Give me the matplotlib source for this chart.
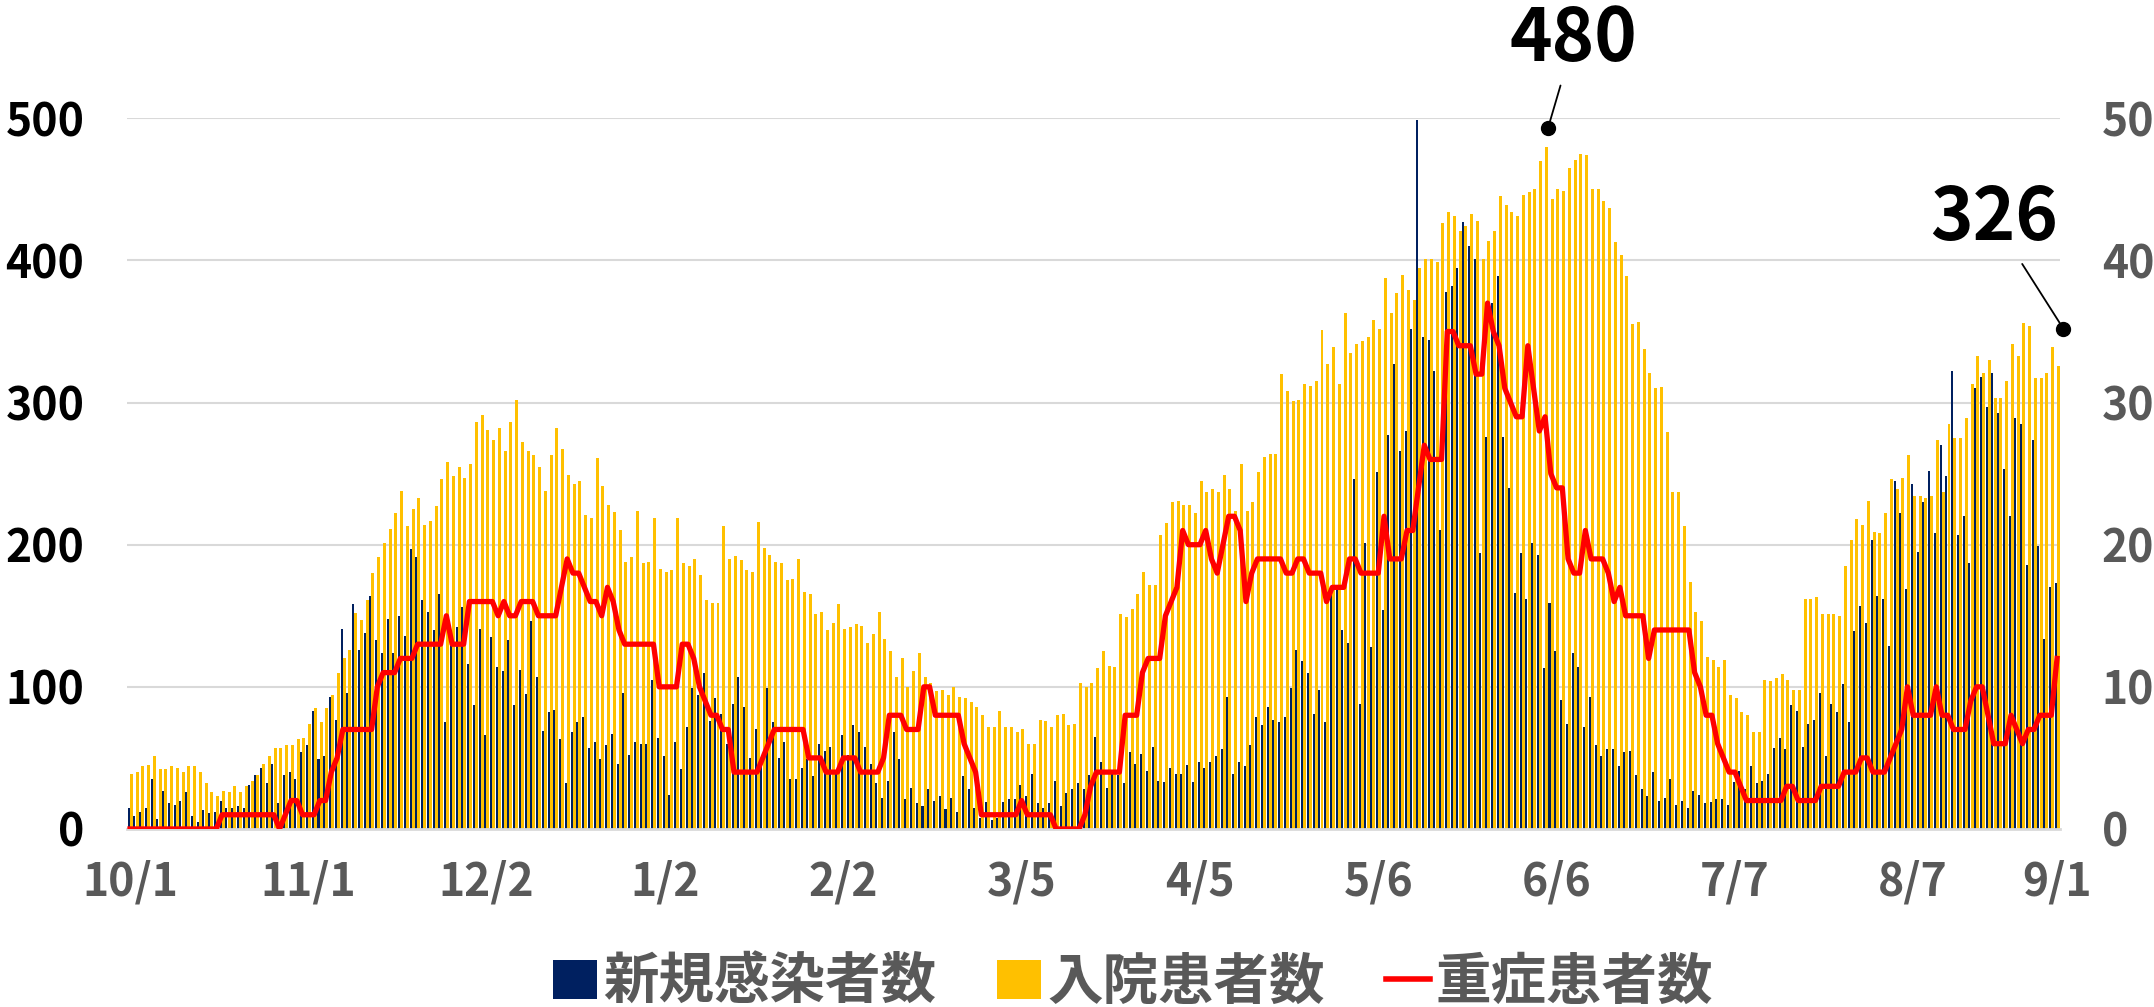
import numpy as np
import pandas as pd
import matplotlib
matplotlib.use('Agg')
import matplotlib.pyplot as plt
from matplotlib.patches import Patch
from matplotlib.lines import Line2D

plt.rcParams['font.family'] = ['Noto Sans CJK JP', 'DejaVu Sans']

# daily series 2020/10/1 - 2021/9/1
dates = pd.date_range('2020-10-01', '2021-09-01', freq='D')

new_cases = [15, 9, 12, 15, 35, 7, 27, 18, 17, 20,
             26, 9, 5, 13, 11, 12, 20, 15, 15, 16,
             15, 31, 38, 43, 32, 46, 18, 38, 40, 35,
             54, 59, 83, 49, 51, 93, 77, 141, 96, 158,
             126, 138, 164, 133, 124, 148, 124, 150, 136, 197,
             191, 161, 153, 140, 165, 75, 130, 142, 156, 116,
             87, 141, 66, 135, 114, 111, 133, 87, 112, 95,
             146, 107, 69, 82, 84, 63, 32, 68, 75, 79,
             57, 61, 49, 59, 67, 46, 96, 52, 61, 60,
             60, 105, 64, 51, 24, 61, 42, 72, 99, 94,
             110, 76, 92, 81, 60, 88, 107, 86, 50, 70,
             46, 99, 75, 50, 61, 35, 35, 43, 49, 37,
             60, 55, 58, 39, 66, 52, 73, 68, 58, 46,
             32, 22, 34, 68, 49, 21, 29, 18, 16, 28,
             20, 23, 14, 22, 12, 37, 28, 15, 8, 19,
             6, 8, 19, 21, 21, 31, 23, 39, 18, 15,
             18, 34, 16, 25, 28, 32, 28, 38, 65, 47,
             29, 39, 38, 32, 54, 46, 53, 41, 58, 34,
             33, 43, 39, 39, 45, 33, 47, 43, 47, 51,
             56, 93, 39, 47, 44, 59, 79, 73, 86, 77,
             75, 79, 99, 126, 118, 110, 81, 98, 75, 165,
             171, 140, 131, 246, 88, 201, 128, 251, 154, 277,
             327, 266, 280, 352, 499, 346, 344, 322, 210, 378,
             382, 395, 427, 410, 401, 194, 276, 370, 389, 276,
             240, 166, 194, 162, 201, 193, 113, 159, 125, 91,
             74, 124, 114, 72, 93, 59, 51, 56, 56, 44,
             54, 55, 38, 28, 23, 40, 20, 22, 35, 17,
             20, 15, 27, 24, 18, 19, 21, 21, 17, 33,
             41, 28, 44, 32, 34, 39, 57, 64, 56, 87,
             83, 58, 74, 77, 96, 51, 88, 82, 102, 75,
             139, 157, 145, 203, 164, 162, 129, 245, 222, 169,
             243, 195, 230, 252, 208, 270, 248, 322, 207, 220,
             187, 310, 318, 297, 321, 293, 253, 220, 289, 285,
             186, 274, 199, 134, 170, 173]

inpatients = [39, 40, 44, 45, 51, 42, 42, 44, 43, 40,
              44, 44, 40, 32, 26, 23, 27, 26, 30, 26,
              30, 34, 38, 46, 51, 57, 57, 59, 59, 63,
              64, 74, 85, 75, 85, 94, 110, 120, 126, 152,
              147, 161, 180, 191, 201, 211, 222, 238, 213, 225,
              233, 214, 217, 227, 246, 258, 248, 255, 247, 257,
              286, 291, 281, 274, 282, 266, 286, 302, 272, 266,
              263, 255, 238, 263, 282, 267, 249, 243, 245, 221,
              219, 261, 241, 228, 223, 210, 188, 191, 224, 187,
              188, 219, 183, 181, 182, 219, 187, 185, 190, 179,
              161, 159, 159, 213, 190, 192, 189, 182, 181, 216,
              198, 193, 188, 187, 175, 176, 190, 167, 165, 151,
              153, 140, 145, 158, 141, 142, 144, 143, 131, 137,
              153, 134, 125, 107, 120, 100, 111, 124, 107, 103,
              97, 98, 94, 100, 93, 92, 89, 86, 80, 72,
              72, 83, 72, 72, 68, 70, 60, 60, 77, 76,
              72, 80, 81, 73, 74, 103, 100, 103, 113, 125,
              115, 114, 151, 149, 155, 165, 181, 172, 172, 207,
              215, 230, 231, 228, 228, 222, 245, 237, 239, 237,
              249, 239, 224, 257, 224, 230, 251, 262, 264, 264,
              320, 308, 301, 302, 313, 312, 315, 351, 327, 339,
              313, 363, 335, 341, 343, 346, 358, 352, 388, 363,
              377, 390, 379, 372, 395, 401, 401, 399, 426, 434,
              431, 421, 424, 433, 428, 401, 414, 421, 445, 439,
              434, 431, 446, 448, 450, 470, 480, 443, 450, 449,
              465, 471, 475, 474, 450, 450, 442, 437, 413, 404,
              389, 355, 357, 338, 321, 310, 311, 279, 237, 237,
              213, 174, 153, 146, 121, 119, 114, 119, 94, 92,
              82, 80, 68, 68, 105, 104, 106, 109, 105, 98,
              98, 162, 162, 163, 151, 151, 151, 150, 185, 203,
              218, 214, 231, 209, 208, 222, 246, 239, 247, 263,
              234, 234, 233, 234, 274, 237, 285, 275, 275, 289,
              313, 333, 321, 330, 303, 303, 315, 341, 333, 356,
              354, 317, 317, 321, 339, 326]

severe = [0, 0, 0, 0, 0, 0, 0, 0, 0, 0,
          0, 0, 0, 0, 0, 0, 1, 1, 1, 1,
          1, 1, 1, 1, 1, 1, 0, 1, 2, 2,
          1, 1, 1, 2, 2, 4, 5, 7, 7, 7,
          7, 7, 7, 10, 11, 11, 11, 12, 12, 12,
          13, 13, 13, 13, 13, 15, 13, 13, 13, 16,
          16, 16, 16, 16, 15, 16, 15, 15, 16, 16,
          16, 15, 15, 15, 15, 17, 19, 18, 18, 17,
          16, 16, 15, 17, 16, 14, 13, 13, 13, 13,
          13, 13, 10, 10, 10, 10, 13, 13, 12, 10,
          9, 8, 8, 7, 7, 4, 4, 4, 4, 4,
          5, 6, 7, 7, 7, 7, 7, 7, 5, 5,
          5, 4, 4, 4, 5, 5, 5, 4, 4, 4,
          4, 5, 8, 8, 8, 7, 7, 7, 10, 10,
          8, 8, 8, 8, 8, 6, 5, 4, 1, 1,
          1, 1, 1, 1, 1, 2, 1, 1, 1, 1,
          1, 0, 0, 0, 0, 0, 1, 3, 4, 4,
          4, 4, 4, 8, 8, 8, 11, 12, 12, 12,
          15, 16, 17, 21, 20, 20, 20, 21, 19, 18,
          20, 22, 22, 21, 16, 18, 19, 19, 19, 19,
          19, 18, 18, 19, 19, 18, 18, 18, 16, 17,
          17, 17, 19, 19, 18, 18, 18, 18, 22, 19,
          19, 19, 21, 21, 24, 27, 26, 26, 26, 35,
          35, 34, 34, 34, 32, 32, 37, 35, 34, 31,
          30, 29, 29, 34, 31, 28, 29, 25, 24, 24,
          19, 18, 18, 21, 19, 19, 19, 18, 16, 17,
          15, 15, 15, 15, 12, 14, 14, 14, 14, 14,
          14, 14, 11, 10, 8, 8, 6, 5, 4, 4,
          3, 2, 2, 2, 2, 2, 2, 2, 3, 3,
          2, 2, 2, 2, 3, 3, 3, 3, 4, 4,
          4, 5, 5, 4, 4, 4, 5, 6, 7, 10,
          8, 8, 8, 8, 10, 8, 8, 7, 7, 7,
          9, 10, 10, 8, 6, 6, 6, 8, 7, 6,
          7, 7, 8, 8, 8, 12]

tick_dates = ['2020-10-01', '2020-11-01', '2020-12-02', '2021-01-02', '2021-02-02', '2021-03-05',
              '2021-04-05', '2021-05-06', '2021-06-06', '2021-07-07', '2021-08-07', '2021-09-01']
tick_labels = ['10/1', '11/1', '12/2', '1/2', '2/2', '3/5', '4/5', '5/6', '6/6', '7/7', '8/7', '9/1']
legend_labels = ['新規感染者数', '入院患者数', '重症患者数']

navy = '#002060'
yellow = '#FFC000'
red = '#FF0000'
grey = '#595959'

x = np.arange(len(dates))

fig = plt.figure(figsize=(21.54, 10.07), dpi=100)
ax = fig.add_axes([0.05915, 0.1768, 0.8973, 0.7057])

ax.bar(x - 0.23, new_cases, width=0.35, color=navy, linewidth=0)
ax.bar(x + 0.22, inpatients, width=0.52, color=yellow, linewidth=0)

ax.set_xlim(-0.45, len(x) - 0.45)
ax.set_ylim(0, 500)
ax.set_yticks(range(0, 501, 100))
ax.yaxis.grid(True, color='#d9d9d9', lw=1.5)
ax.set_axisbelow(True)
for s in ['top', 'right', 'left']:
    ax.spines[s].set_visible(False)
ax.spines['bottom'].set_color('#d9d9d9')
ax.spines['bottom'].set_linewidth(2)

tick_pos = [dates.get_loc(pd.Timestamp(d)) for d in tick_dates]
ax.set_xticks(tick_pos)
ax.set_xticklabels(tick_labels, fontsize=32, fontweight='bold', color=grey)
ax.tick_params(axis='x', length=0, pad=22)
ax.tick_params(axis='y', length=0, pad=31, labelsize=32, labelcolor='black')
for lab in ax.get_yticklabels():
    lab.set_fontweight('bold')

ax2 = ax.twinx()
ax2.plot(x, severe, color=red, lw=3.8, solid_joinstyle='round')
ax2.set_ylim(0, 50)
ax2.set_yticks(range(0, 51, 10))
ax2.tick_params(axis='y', length=0, pad=30, labelsize=32, labelcolor=grey)
for lab in ax2.get_yticklabels():
    lab.set_fontweight('bold')
for s in ax2.spines.values():
    s.set_visible(False)

# data labels (peak and last day)
i_peak = int(np.argmax(inpatients))
i_last = len(inpatients) - 1
for i, dx, dy, tx, ty in [(i_peak, 0.5, 13, 5, 75), (i_last, 1.1, 26, -11, 103)]:
    px, py = i + dx, inpatients[i] + dy
    ax.plot([px], [py], 'o', color='black', ms=10, clip_on=False, zorder=6)
    ax.annotate(str(inpatients[i]), xy=(px, py), xytext=(i + tx, inpatients[i] + ty),
                ha='center', va='center', fontsize=52, fontweight='bold',
                arrowprops=dict(arrowstyle='-', color='black', lw=1.3, shrinkA=4, shrinkB=0),
                annotation_clip=False, zorder=6)

handles = [Patch(facecolor=navy), Patch(facecolor=yellow), Line2D([], [], color=red, lw=4)]
fig.legend(handles, legend_labels, loc='center', bbox_to_anchor=(0.526, 0.024), ncol=3,
           frameon=False, prop={'size': 40, 'weight': 'bold'}, labelcolor=grey,
           handlelength=0.8, handleheight=0.7, handletextpad=0.1, columnspacing=1.1)

fig.savefig('out.png', dpi=100)
